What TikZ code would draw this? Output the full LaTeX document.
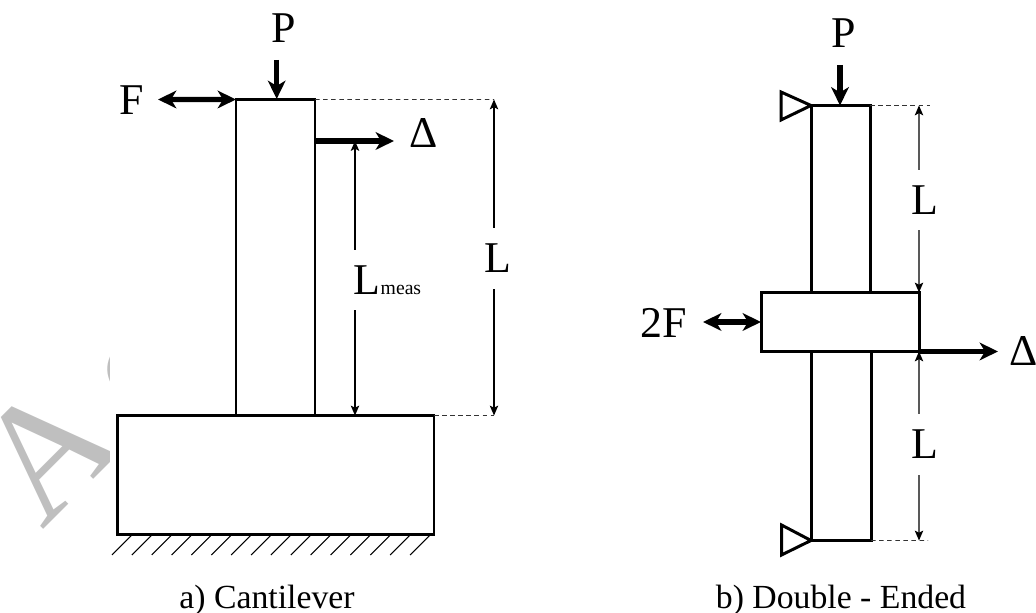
\documentclass[tikz,border=0pt]{standalone}
\usepackage{fontspec}
\setmainfont{Liberation Serif}
\usetikzlibrary{arrows.meta}
\tikzset{
	body/.style={draw, line width=0.85pt, inner sep=0pt, outer sep=0pt},
	force/.style={line width=1.55pt, {Stealth[length=5.2pt,width=5pt,inset=1.5pt]}-{Stealth[length=5.2pt,width=5pt,inset=1.5pt]}},
	forcetip/.style={line width=1.55pt, -{Stealth[length=5.2pt,width=5pt,inset=1.5pt]}},
	dim/.style={line width=0.35pt, {Stealth[length=2.8pt,width=2.4pt,inset=0.6pt]}-{Stealth[length=2.8pt,width=2.4pt,inset=0.6pt]}},
	guide/.style={line width=0.25pt, dash pattern=on 1.3pt off 1pt, black!80},
	big/.style={font=\fontsize{12.5}{14}\selectfont, inner sep=0pt},
	caption/.style={font=\fontsize{9.6}{11}\selectfont, inner sep=0pt},
	gap/.style={big, fill=white, inner ysep=0.16cm, inner xsep=0.5pt},
}
\begin{document}
\begin{tikzpicture} [>=latex]
	\useasboundingbox (0,0) rectangle (10.36,6.13);
	% watermark
	\begin{scope}
		\clip (0,0.5) rectangle (1.09,3);
		\node[rotate=45, anchor=base west, text=black!25, inner sep=0pt, font=\fontsize{47}{50}\selectfont] (mark) at (0.42,0.815) {A\kern7pt c};
	\end{scope}
	% a) cantilever
	\node[body, minimum width=0.79cm, minimum height=3.16cm] (column) at (2.755,3.555) {};
	\node[body, minimum width=3.165cm, minimum height=1.19cm] (base) at (2.7575,1.38) {};
	\foreach \x in {0,...,15}
		\draw[line width=0.3pt] (1.12+\x*0.1987,0.58) -- (1.32+\x*0.1987,0.78);
	\node[big] (Pa) at (2.835,5.85) {P};
	\node[big] (Fa) at (1.315,5.125) {F};
	\node[big] (Da) at (4.24,4.795) {Δ};
	\coordinate (Pa in) at (2.767,5.53);
	\coordinate (Pa end) at (2.767,5.14);
	\coordinate (Fa out) at (1.58,5.135);
	\coordinate (Da top) at (3.15,4.72);
	\coordinate (Da out) at (3.94,4.72);
	\draw[forcetip] (Pa in) -- (Pa end);
	\draw[force] (Fa out) -- (column.north west);
	\draw[forcetip] (Da top) -- (Da out);
	\coordinate (meas top) at (3.55,4.72);
	\coordinate (meas end) at (3.55,1.975);
	\coordinate (La top) at (4.94,5.135);
	\coordinate (La end) at (4.94,1.975);
	\draw[guide] (column.north east) -- (La top);
	\draw[guide] (base.north east) -- (La end);
	\draw[dim] (meas top) -- (meas end);
	\draw[dim] (La top) -- (La end);
	\node[gap] (Lmeas) at (3.875,3.33) {L\fontsize{5.6}{7}\selectfont meas};
	\node[gap] (La) at (4.975,3.545) {L};
	\node[caption] (capa) at (2.67,0.13) {a) Cantilever};
	% b) double ended
	\node[body, minimum width=0.59cm, minimum height=1.87cm] (top) at (8.405,4.14) {};
	\node[body, minimum width=0.60cm, minimum height=1.89cm] (low) at (8.41,1.67) {};
	\node[body, minimum width=1.58cm, minimum height=0.59cm] (block) at (8.40,2.91) {};
	\node[big] (Pb) at (8.44,5.80) {P};
	\node[big] (Fb) at (6.64,2.90) {2F};
	\node[big] (Db) at (10.235,2.62) {Δ};
	\coordinate (Pb in) at (8.40,5.48);
	\coordinate (Pb end) at (8.40,5.075);
	\coordinate (Fb out) at (7.03,2.91);
	\coordinate (Db out) at (9.98,2.615);
	\draw[forcetip] (Pb in) -- (Pb end);
	\draw[force] (Fb out) -- (block.west);
	\draw[forcetip] (block.south east) -- (Db out);
	\draw[line width=0.85pt] (top.north west) -- (7.81,5.21) -- (7.81,4.93) -- cycle;
	\draw[line width=0.85pt] (low.south west) -- (7.815,0.88) -- (7.815,0.58) -- cycle;
	\coordinate (Lb top) at (9.19,5.075);
	\coordinate (Lb end) at (9.19,0.725);
	\draw[guide] (top.north east) -- (9.30,5.075);
	\draw[guide] (low.south east) -- (9.28,0.725);
	\draw[dim] (Lb top) -- (block.north east);
	\draw[dim] (block.south east) -- (Lb end);
	\node[gap] (Lb1) at (9.25,4.13) {L};
	\node[gap] (Lb2) at (9.25,1.685) {L};
	\node[caption] (capb) at (8.41,0.13) {b) Double - Ended};
\end{tikzpicture}
\end{document}
